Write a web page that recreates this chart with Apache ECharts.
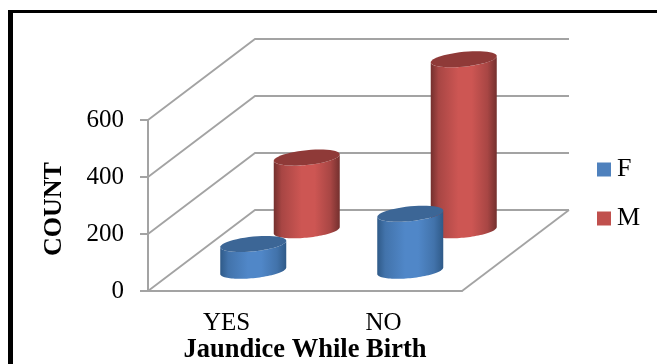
<!DOCTYPE html>
<html>
<head>
<meta charset="utf-8">
<style>html,body{margin:0;padding:0;background:#fff}#chart{width:657px;height:364px}</style>
<script src="https://cdn.jsdelivr.net/npm/echarts@6/dist/echarts.min.js"></script>
</head>
<body>
<div id="chart"></div>
<script>
// Jaundice-at-birth counts by sex
const categories = ['YES', 'NO'];
const femaleCounts = [94, 200];
const maleCounts = [255, 600];
const gridValues = [0, 200, 400, 600];

// Oblique projection of the chart's depth axis, in pixels
const DEPTH_X = 107;
const DEPTH_Y = -81;
const FONT = '"Liberation Serif", serif';
const WALL = '#a3a3a3';

function project(p, depth) {
  return [p[0] + DEPTH_X * depth, p[1] + DEPTH_Y * depth];
}

// Points along a tilted ellipse between two angles
function arc(cx, cy, from, to) {
  const pts = [];
  const n = 48;
  for (let i = 0; i <= n; i++) {
    const t = from + (to - from) * i / n;
    pts.push([cx + 33 * Math.cos(t), cy + 7.4 * Math.sin(t) - 3.2 * Math.cos(t)]);
  }
  return pts;
}

function cylinder(depth, shades) {
  return function (params, api) {
    const cat = api.value(0);
    const base = project(api.coord([cat, 0]), depth);
    const top = project(api.coord([cat, api.value(1)]), depth);
    const cx = base[0];
    const body = arc(cx, base[1], Math.PI, 0).concat(arc(cx, top[1], 0, Math.PI));
    return {
      type: 'group',
      children: [
        {
          type: 'polygon',
          shape: { points: body },
          style: {
            fill: new echarts.graphic.LinearGradient(0, 0, 1, 0, [
              { offset: 0, color: shades.edge },
              { offset: 0.12, color: shades.mid },
              { offset: 0.42, color: shades.light },
              { offset: 0.62, color: shades.light },
              { offset: 0.86, color: shades.mid },
              { offset: 1, color: shades.edge }
            ])
          }
        },
        {
          type: 'polygon',
          shape: { points: arc(cx, top[1], 0, Math.PI * 2) },
          style: { fill: shades.cap }
        }
      ]
    };
  };
}

// Side wall, back wall and floor outline
function renderWalls(params, api) {
  const v = api.value(0);
  const cs = params.coordSys;
  const left = [cs.x, api.coord([0, v])[1]];
  const right = [cs.x + cs.width, left[1]];
  const children = [{
    type: 'polyline',
    shape: { points: [left, project(left, 1), project(right, 1)] },
    style: { stroke: WALL, lineWidth: 1.8, fill: null }
  }];
  if (v === 0) {
    children.push({
      type: 'line',
      shape: { x1: right[0], y1: right[1], x2: right[0] + DEPTH_X, y2: right[1] + DEPTH_Y },
      style: { stroke: WALL, lineWidth: 1.8 }
    });
  }
  return { type: 'group', children };
}

const chart = echarts.init(document.getElementById('chart'), null, { renderer: 'canvas' });
chart.setOption({
  animation: false,
  backgroundColor: '#ffffff',
  textStyle: { fontFamily: FONT },
  grid: { left: 148, right: 195, top: 120, bottom: 73, outerBoundsMode: 'none' },
  graphic: [
    { type: 'rect', shape: { x: 8, y: 10, width: 5, height: 354 }, style: { fill: '#000' } },
    { type: 'rect', shape: { x: 8, y: 10, width: 649, height: 3 }, style: { fill: '#000' } }
  ],
  legend: {
    data: ['F', 'M'],
    orient: 'vertical',
    left: 597,
    top: 153,
    padding: 0,
    icon: 'rect',
    itemWidth: 14,
    itemHeight: 14,
    itemGap: 16,
    textStyle: { fontFamily: FONT, fontSize: 26, color: '#000', lineHeight: 29, padding: [4, 0, 0, 1] }
  },
  xAxis: {
    type: 'category',
    data: categories,
    name: 'Jaundice While Birth',
    nameLocation: 'middle',
    nameGap: 43,
    nameTextStyle: { fontFamily: FONT, fontSize: 26.5, fontWeight: 'bold', color: '#000' },
    axisLine: { lineStyle: { color: WALL, width: 2 } },
    axisTick: { show: false },
    axisLabel: { fontFamily: FONT, fontSize: 25, color: '#000', margin: 20 }
  },
  yAxis: {
    type: 'value',
    min: 0,
    max: 600,
    interval: 200,
    name: 'COUNT',
    nameLocation: 'middle',
    nameGap: 81,
    nameRotate: 90,
    nameTextStyle: { fontFamily: FONT, fontSize: 26, fontWeight: 'bold', color: '#000', padding: [0, 7, 0, 0] },
    axisLine: { show: true, lineStyle: { color: WALL, width: 2 } },
    axisTick: { show: true, length: 8, lineStyle: { color: WALL, width: 2 } },
    axisLabel: { fontFamily: FONT, fontSize: 25, color: '#000', margin: 24, padding: [4, 0, 0, 0] },
    splitLine: { show: false }
  },
  series: [
    {
      type: 'custom',
      name: 'walls',
      z: 1,
      silent: true,
      data: gridValues.map(v => [v]),
      encode: { y: 0 },
      renderItem: renderWalls
    },
    {
      type: 'custom',
      name: 'F',
      z: 4,
      itemStyle: { color: '#4f81bd' },
      data: femaleCounts.map((v, i) => [i, v]),
      renderItem: cylinder(0.25, { edge: '#2f5a88', mid: '#4273ab', light: '#5087c8', cap: '#3c6696' })
    },
    {
      type: 'custom',
      name: 'M',
      z: 3,
      itemStyle: { color: '#c0504d' },
      data: maleCounts.map((v, i) => [i, v]),
      renderItem: cylinder(0.75, { edge: '#74302e', mid: '#a84644', light: '#cd5653', cap: '#8f3a38' })
    }
  ]
});
</script>
</body>
</html>
